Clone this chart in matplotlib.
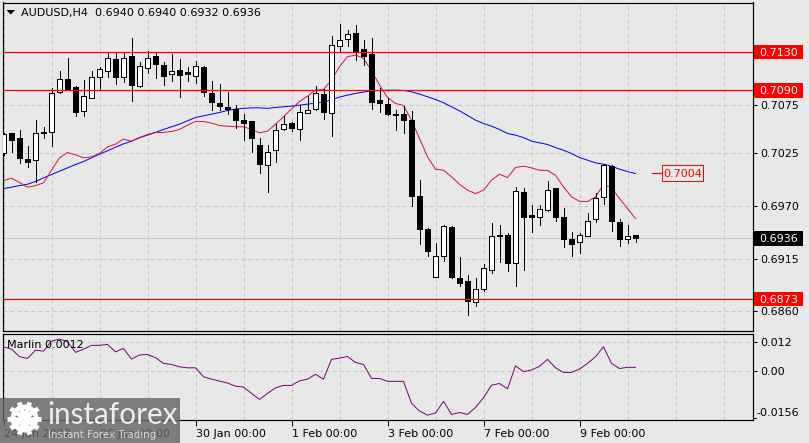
import matplotlib
matplotlib.use("Agg")
import matplotlib.pyplot as plt
import numpy as np
from matplotlib.patches import Circle, Polygon, Rectangle, Wedge

# ── AUDUSD H4 candles ─────────────────────────────────────────────────────────
opens = [0.7025, 0.7046, 0.7040, 0.7019, 0.7018, 0.7047, 0.7047, 0.7088, 0.7102, 0.7094,
         0.7069, 0.7082, 0.7104, 0.7110, 0.7123, 0.7104, 0.7126, 0.7095, 0.7113, 0.7126,
         0.7116, 0.7107, 0.7111, 0.7109, 0.7105, 0.7114, 0.7087, 0.7077, 0.7073, 0.7071,
         0.7059, 0.7058, 0.7033, 0.7012, 0.7028, 0.7050, 0.7056, 0.7050, 0.7067, 0.7071,
         0.7086, 0.7067, 0.7136, 0.7144, 0.7150, 0.7133, 0.7128, 0.7080, 0.7076, 0.7066,
         0.7065, 0.7059, 0.6980, 0.6946, 0.6896, 0.6918, 0.6948, 0.6895, 0.6892, 0.6870,
         0.6883, 0.6903, 0.6940, 0.6940, 0.6910, 0.6984, 0.6960, 0.6958, 0.6966, 0.6988,
         0.6958, 0.6935, 0.6932, 0.6939, 0.6956, 0.6979, 0.7011, 0.6953, 0.6935, 0.6940]
highs = [0.7046, 0.7046, 0.7049, 0.7032, 0.7059, 0.7052, 0.7093, 0.7110, 0.7124, 0.7095,
         0.7101, 0.7110, 0.7114, 0.7129, 0.7129, 0.7129, 0.7145, 0.7120, 0.7131, 0.7129,
         0.7120, 0.7128, 0.7123, 0.7114, 0.7121, 0.7115, 0.7100, 0.7097, 0.7088, 0.7075,
         0.7066, 0.7058, 0.7041, 0.7033, 0.7055, 0.7063, 0.7057, 0.7075, 0.7084, 0.7095,
         0.7091, 0.7147, 0.7159, 0.7153, 0.7158, 0.7143, 0.7145, 0.7093, 0.7082, 0.7070,
         0.7074, 0.7069, 0.6997, 0.6947, 0.6931, 0.6950, 0.6949, 0.6917, 0.6898, 0.6895,
         0.6909, 0.6952, 0.6950, 0.6942, 0.6990, 0.6988, 0.6971, 0.6971, 0.6996, 0.6988,
         0.6968, 0.6943, 0.6942, 0.6962, 0.6983, 0.7013, 0.7012, 0.6956, 0.6950, 0.6940]
lows = [0.7023, 0.7026, 0.7015, 0.7010, 0.6995, 0.7040, 0.7032, 0.7087, 0.7092, 0.7063,
        0.7063, 0.7082, 0.7092, 0.7104, 0.7097, 0.7099, 0.7079, 0.7094, 0.7108, 0.7103,
        0.7096, 0.7100, 0.7083, 0.7100, 0.7098, 0.7084, 0.7070, 0.7070, 0.7065, 0.7051,
        0.7038, 0.7026, 0.7004, 0.6984, 0.7016, 0.7049, 0.7048, 0.7038, 0.7067, 0.7070,
        0.7060, 0.7043, 0.7130, 0.7136, 0.7122, 0.7116, 0.7071, 0.7068, 0.7064, 0.7049,
        0.7046, 0.6970, 0.6930, 0.6918, 0.6896, 0.6913, 0.6895, 0.6887, 0.6856, 0.6866,
        0.6881, 0.6900, 0.6912, 0.6902, 0.6887, 0.6903, 0.6943, 0.6950, 0.6965, 0.6954,
        0.6927, 0.6918, 0.6921, 0.6939, 0.6953, 0.6972, 0.6944, 0.6928, 0.6931, 0.6932]
closes = [0.7045, 0.7038, 0.7020, 0.7016, 0.7046, 0.7046, 0.7087, 0.7102, 0.7092, 0.7068,
          0.7084, 0.7104, 0.7112, 0.7124, 0.7104, 0.7124, 0.7096, 0.7115, 0.7124, 0.7117,
          0.7105, 0.7110, 0.7106, 0.7107, 0.7115, 0.7088, 0.7078, 0.7074, 0.7071, 0.7059,
          0.7056, 0.7041, 0.7013, 0.7026, 0.7049, 0.7055, 0.7051, 0.7068, 0.7070, 0.7087,
          0.7068, 0.7137, 0.7143, 0.7149, 0.7131, 0.7126, 0.7078, 0.7077, 0.7065, 0.7064,
          0.7059, 0.6980, 0.6946, 0.6923, 0.6918, 0.6949, 0.6896, 0.6890, 0.6871, 0.6883,
          0.6905, 0.6939, 0.6939, 0.6910, 0.6985, 0.6958, 0.6958, 0.6967, 0.6986, 0.6958,
          0.6935, 0.6930, 0.6940, 0.6954, 0.6978, 0.7012, 0.6954, 0.6935, 0.6939, 0.6936]

blue_ma = [0.69879, 0.69893, 0.69910, 0.69924, 0.69952, 0.69990, 0.70025, 0.70060, 0.70094, 0.70129,
           0.70160, 0.70199, 0.70237, 0.70272, 0.70310, 0.70344, 0.70372, 0.70407, 0.70435, 0.70463,
           0.70494, 0.70522, 0.70549, 0.70584, 0.70619, 0.70636, 0.70653, 0.70671, 0.70692, 0.70706,
           0.70713, 0.70719, 0.70719, 0.70713, 0.70723, 0.70730, 0.70737, 0.70747, 0.70758, 0.70768,
           0.70778, 0.70803, 0.70831, 0.70851, 0.70869, 0.70883, 0.70897, 0.70900, 0.70902, 0.70902,
           0.70900, 0.70886, 0.70862, 0.70834, 0.70806, 0.70772, 0.70730, 0.70688, 0.70640, 0.70591,
           0.70556, 0.70528, 0.70494, 0.70452, 0.70435, 0.70410, 0.70372, 0.70355, 0.70338, 0.70306,
           0.70278, 0.70244, 0.70202, 0.70174, 0.70147, 0.70133, 0.70112, 0.70081, 0.70056, 0.70035]
red_ma = [0.69963, 0.69987, 0.69942, 0.69893, 0.69910, 0.69938, 0.70070, 0.70199, 0.70254, 0.70230,
          0.70199, 0.70209, 0.70244, 0.70313, 0.70341, 0.70393, 0.70372, 0.70410, 0.70442, 0.70463,
          0.70463, 0.70473, 0.70494, 0.70539, 0.70577, 0.70577, 0.70560, 0.70535, 0.70528, 0.70522,
          0.70522, 0.70494, 0.70459, 0.70476, 0.70549, 0.70626, 0.70706, 0.70785, 0.70841, 0.70903,
          0.70910, 0.71008, 0.71147, 0.71251, 0.71268, 0.71233, 0.71105, 0.70956, 0.70827, 0.70765,
          0.70744, 0.70591, 0.70400, 0.70209, 0.70081, 0.70070, 0.70001, 0.69924, 0.69862, 0.69827,
          0.69862, 0.69966, 0.70028, 0.69994, 0.70098, 0.70112, 0.70094, 0.70070, 0.70067, 0.70018,
          0.69897, 0.69792, 0.69747, 0.69744, 0.69792, 0.69921, 0.69890, 0.69775, 0.69671, 0.69567]
marlin = [0.0102, 0.0092, 0.0061, 0.0054, 0.0088, 0.0084, 0.0125, 0.0134, 0.0123, 0.0079,
          0.0092, 0.0108, 0.0108, 0.0112, 0.0081, 0.0095, 0.0051, 0.0068, 0.0070, 0.0057,
          0.0033, 0.0029, 0.0019, 0.0015, 0.0015, -0.0022, -0.0032, -0.0040, -0.0048, -0.0061,
          -0.0065, -0.0091, -0.0116, -0.0091, -0.0068, -0.0058, -0.0058, -0.0039, -0.0032, -0.0012,
          -0.0032, 0.0050, 0.0055, 0.0062, 0.0037, 0.0029, -0.0029, -0.0029, -0.0041, -0.0041,
          -0.0041, -0.0132, -0.0164, -0.0181, -0.0172, -0.0124, -0.0178, -0.0170, -0.0178, -0.0149,
          -0.0109, -0.0057, -0.0050, -0.0072, 0.0023, -0.0001, 0.0006, 0.0021, 0.0050, 0.0015,
          -0.0004, -0.0004, 0.0010, 0.0033, 0.0061, 0.0102, 0.0033, 0.0012, 0.0017, 0.0017]

price_ticks = [0.7075, 0.7025, 0.6970, 0.6915, 0.6860]
red_levels = [0.7130, 0.7090, 0.6873]
last_price = 0.6936
ma_level = 0.7004
marlin_ticks = [0.012, 0.0]
date_labels = ["24 Jan 2022", "26 Jan 00:00", "30 Jan 00:00", "1 Feb 00:00",
               "3 Feb 00:00", "7 Feb 00:00", "9 Feb 00:00"]

BG = "#E8E8E8"
GRID = "#C6C6C6"
W, H = 809, 443
FONT = 8.0
PX = 0.72  # un píxel en puntos a dpi=100

fig = plt.figure(figsize=(W / 100, H / 100), dpi=100, facecolor=BG)


def px_axes(left, top, right, bottom):
    return fig.add_axes([left / W, 1 - bottom / H, (right - left) / W, (bottom - top) / H], facecolor=BG)


ax = px_axes(2.5, 2.5, 752.5, 331)
ax2 = px_axes(2.5, 333.5, 752.5, 419.5)

index = np.arange(len(opens))
major_x = np.arange(0, 73, 12)
minor_x = np.array([6, 18, 30, 42, 54, 66, 78, 84, 90])

for a in (ax, ax2):
    a.set_xlim(-0.125, 93.625)
    a.set_xticks(major_x)
    a.set_xticks(minor_x, minor=True)
    a.tick_params(axis="x", which="minor", length=0)
    a.grid(True, axis="both", which="both", color=GRID, linestyle=(0, (4, 3)), linewidth=PX)
    a.set_axisbelow(True)
    a.yaxis.tick_right()
    a.tick_params(axis="y", length=3, width=PX, labelsize=FONT, pad=2.5)
    for spine in a.spines.values():
        spine.set_linewidth(PX * 1.2)

# ── Panel de precio ───────────────────────────────────────────────────────────
ax.set_ylim(0.68397, 0.71815)
ax.set_yticks(price_ticks, [f"{p:.4f}" for p in price_ticks])
ax.tick_params(axis="x", which="major", length=0, labelbottom=False)

ax.axhline(last_price, color="#C8C8C8", linewidth=PX, zorder=1)
ax.plot(index, blue_ma, color="#0000FF", linewidth=PX, zorder=2)
ax.plot(index, red_ma, color="#DC143C", linewidth=PX, zorder=2)

opens_arr = np.array(opens)
closes_arr = np.array(closes)
bottoms = np.minimum(opens_arr, closes_arr)
heights = np.abs(closes_arr - opens_arr)
colors = np.where(closes_arr > opens_arr, "white", "black")
ax.vlines(index, lows, highs, color="black", linewidth=PX, zorder=3, antialiased=False)
ax.bar(index, heights, bottom=bottoms, width=0.56, color=colors, edgecolor="black",
       linewidth=PX, zorder=4, antialiased=False)

for level in red_levels:
    ax.axhline(level, color="#FF0000", linewidth=PX * 1.2, zorder=5)

# etiquetas de precio a la derecha
box_h = 14.5 / 9600
y_trans = ax.get_yaxis_transform()
for value, face in [(0.7130, "#FF0000"), (0.7090, "#FF0000"), (0.6873, "#FF0000"), (last_price, "black")]:
    ax.add_patch(Rectangle((1.0023, value - box_h / 2), 0.0653, box_h, transform=y_trans,
                           facecolor=face, edgecolor="none", clip_on=False, zorder=6))
    ax.text(1.0095, value, f"{value:.4f}", transform=y_trans, color="white", fontsize=FONT,
            va="center_baseline", ha="left", zorder=7, clip_on=False)

# nivel de la media
ax.plot([81.0, 82.35], [ma_level, ma_level], color="#FF0000", linewidth=PX * 1.2, zorder=5)
ax.add_patch(Rectangle((82.35, ma_level - 8 / 9600), 5.05, 16 / 9600, facecolor=BG,
                       edgecolor="#FF0000", linewidth=PX, zorder=5))
ax.text(82.5, ma_level, f"{ma_level:.4f}", color="#FF0000", fontsize=FONT,
        va="center_baseline", ha="left", zorder=6)

# ── Panel Marlin ──────────────────────────────────────────────────────────────
ax2.set_ylim(-0.0199, 0.0157)
ax2.set_yticks(marlin_ticks, ["0.012", "0.00"])
ax2.set_xticklabels(date_labels, ha="left", fontsize=FONT)
ax2.tick_params(axis="x", which="major", length=4, width=PX, pad=2.5)
ax2.plot(index, marlin, color="#800080", linewidth=PX, zorder=3)
ax2.text(0.0065, 0.93, "Marlin 0.0012", transform=ax2.transAxes, fontsize=FONT, va="top", zorder=4)
ax2.annotate("-0.0156", (1, -0.0156), xycoords=("axes fraction", "data"), xytext=(2.5, -2.5),
             textcoords="offset points", fontsize=FONT, va="center", annotation_clip=False)
ax2.plot([1, 1.004], [-0.0193, -0.0193], transform=ax2.get_yaxis_transform(), color="black",
         linewidth=PX, clip_on=False)

# ── Capa en píxeles: cabecera y marca de agua ─────────────────────────────────
over = fig.add_axes([0, 0, 1, 1], zorder=10)
over.set_xlim(0, W)
over.set_ylim(H, 0)
over.axis("off")

over.add_patch(Polygon([[6.5, 10], [15, 10], [10.7, 14.5]], facecolor="black", edgecolor="none"))
over.text(21, 12.5, "AUDUSD,H4  0.6940 0.6940 0.6932 0.6936", fontsize=FONT, va="center")

over.add_patch(Rectangle((0, 398), 180, 45, facecolor="#666666", alpha=0.82, edgecolor="none"))
gear_c = (24.5, 418.5)
for angle in np.linspace(0, 2 * np.pi, 10, endpoint=False):
    tip = (gear_c[0] + 17 * np.cos(angle), gear_c[1] + 17 * np.sin(angle))
    over.plot([gear_c[0], tip[0]], [gear_c[1], tip[1]], color="white", linewidth=3.4,
              solid_capstyle="butt")
over.add_patch(Wedge(gear_c, 14, 0, 360, width=5, facecolor="white", edgecolor="none"))
over.add_patch(Circle(gear_c, 9, facecolor="#666666", edgecolor="none"))
over.add_patch(Circle((gear_c[0], gear_c[1] - 3), 3.2, facecolor="white", edgecolor="none"))
over.plot([gear_c[0], gear_c[0]], [gear_c[1], gear_c[1] + 11], color="white", linewidth=3.4,
          solid_capstyle="butt")
over.text(47.5, 415, "instaforex", family="Lato", fontsize=21.3, color="#EDEDED", va="center",
          ha="left")
over.text(48.5, 434.5, "Instant Forex Trading", family="DejaVu Sans", fontsize=7.4, color="#D8D8D8",
          va="center", ha="left")

fig.savefig("out.png", dpi=100, facecolor=BG)
plt.close(fig)
